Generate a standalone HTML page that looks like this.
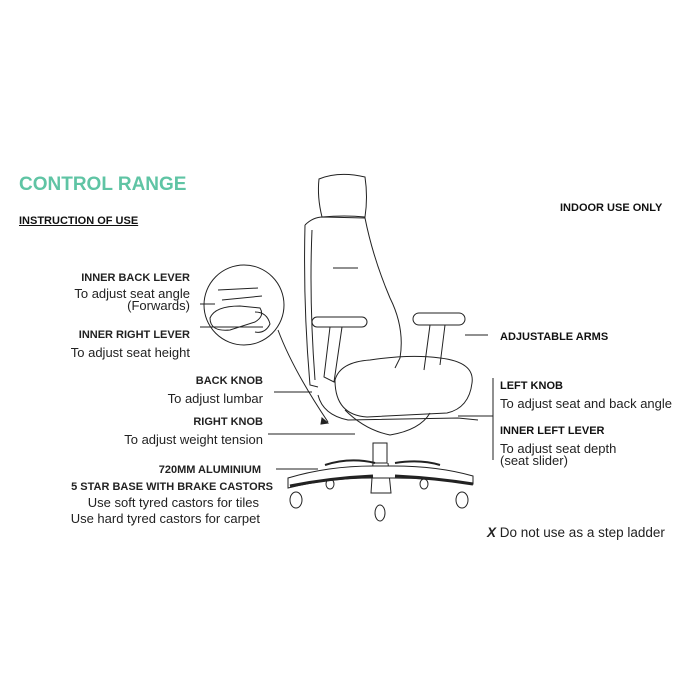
<!DOCTYPE html>
<html><head><style>
body{margin:0;width:700px;height:700px;background:#fff;position:relative;font-family:"Liberation Sans",sans-serif;overflow:hidden}
.t{position:absolute;font-size:13px;color:#222;white-space:nowrap}
.b{font-weight:bold;font-size:11px;color:#111}
.r{text-align:right}
.R{position:absolute;text-align:right;white-space:nowrap;font-size:13px;color:#222}
</style></head><body>
<div class="t" style="left:19px;top:174px;font-size:19px;font-weight:bold;color:#5fc4a4">CONTROL RANGE</div>
<div class="t b" style="left:19px;top:215px;text-decoration:underline">INSTRUCTION OF USE</div>
<div class="t b" style="left:560px;top:202px">INDOOR USE ONLY</div>

<div class="R" style="right:510px;top:269px;line-height:16px"><b style="font-size:11px">INNER BACK LEVER</b><br>To adjust seat angle<br><span style="position:relative;top:-4px">(Forwards)</span></div>
<div class="R" style="right:510px;top:325px;line-height:17px"><b style="font-size:11px">INNER RIGHT LEVER</b><br>To adjust seat height</div>

<div class="R" style="right:437px;top:371px;line-height:17px"><b style="font-size:11px">BACK KNOB</b><br>To adjust lumbar</div>
<div class="R" style="right:437px;top:412px;line-height:17px"><b style="font-size:11px">RIGHT KNOB</b><br>To adjust weight tension</div>

<div class="R" style="right:427px;top:461px;line-height:16px"><b style="font-size:11px;margin-right:12px">720MM ALUMINIUM</b><br><b style="font-size:11px">5 STAR BASE WITH BRAKE CASTORS</b><br><span style="margin-right:14px">Use soft tyred castors for tiles</span><br><span style="margin-right:13px">Use hard tyred castors for carpet</span></div>

<div class="t b" style="left:500px;top:331px">ADJUSTABLE ARMS</div>
<div class="t b" style="left:500px;top:380px">LEFT KNOB</div>
<div class="t" style="left:500px;top:396px">To adjust seat and back angle</div>
<div class="t b" style="left:500px;top:425px">INNER LEFT LEVER</div>
<div class="t" style="left:500px;top:441px">To adjust seat depth</div>
<div class="t" style="left:500px;top:453px">(seat slider)</div>
<div class="t" style="left:487px;top:525px;font-size:13.5px"><b><i>X</i></b> Do not use as a step ladder</div>

<svg width="700" height="700" style="position:absolute;left:0;top:0" fill="none" stroke="#222" stroke-width="1">
<line x1="200" y1="304" x2="215" y2="304"/>
<line x1="200" y1="327" x2="263" y2="327"/>
<line x1="274" y1="392" x2="312" y2="392"/>
<line x1="268" y1="434" x2="355" y2="434"/>
<line x1="276" y1="469" x2="318" y2="469"/>
<line x1="465" y1="335" x2="488" y2="335"/>
<line x1="458" y1="416" x2="493" y2="416"/>
<line x1="493" y1="378" x2="493" y2="460"/>
<circle cx="244" cy="305" r="40"/>
<path d="M210 318 q5 -12 30 -12 l20 2 q5 8 -5 14 l-25 8 q-20 2 -20 -12z"/>
<path d="M218 290 l40 -2 M222 300 l40 -4 M255 312 q12 0 15 12 q-5 10 -15 8"/>
<path d="M278 330 q15 40 50 92"/>
<path d="M322 418 l6 5 l-7 1z" fill="#222"/>
<path d="M322 217 q-5 -20 -3 -38 q20 -8 46 -2 q3 20 0 40 q-20 -2 -43 0z"/>
<path d="M305 225 q8 -8 18 -8 l42 1 q8 40 25 80 q15 30 10 60 l-5 10"/>
<path d="M305 225 q-2 80 5 160 l8 2"/>
<path d="M312 230 q-3 70 3 150"/>
<line x1="333" y1="268" x2="358" y2="268"/>
<rect x="312" y="317" width="55" height="10" rx="5"/>
<path d="M330 327 l-6 50 l10 5 l8 -55"/>
<rect x="413" y="313" width="52" height="12" rx="6"/>
<path d="M430 325 l-6 45 M445 325 l-5 40"/>
<path d="M335 380 q5 -18 35 -20 q40 -6 70 -2 q35 4 32 25 q-3 25 -25 30 l-80 4 q-32 -2 -32 -37z"/>
<path d="M318 395 q5 20 30 25 l110 -2 l20 2"/>
<path d="M345 410 q20 20 45 25 q30 -5 40 -22"/>
<rect x="373" y="443" width="14" height="20"/>
<path d="M373 463 l-2 30 l20 0 l-3 -30"/>
<path d="M288 478 q40 -12 85 -12 l20 0 q45 0 80 10 l0 8 q-40 -6 -80 -6 l-20 0 q-45 0 -85 10z" fill="#fff"/>
<path d="M290 486 q40 -8 83 -10 M395 476 q40 2 78 8" stroke-width="3"/>
<path d="M325 465 q25 -8 50 -2 M395 463 q25 -4 45 2" stroke-width="2"/>
<ellipse cx="296" cy="500" rx="6" ry="8"/>
<ellipse cx="462" cy="500" rx="6" ry="8"/>
<ellipse cx="380" cy="513" rx="5" ry="8"/>
<ellipse cx="330" cy="484" rx="4" ry="5"/>
<ellipse cx="424" cy="484" rx="4" ry="5"/>
</svg>
</body></html>
